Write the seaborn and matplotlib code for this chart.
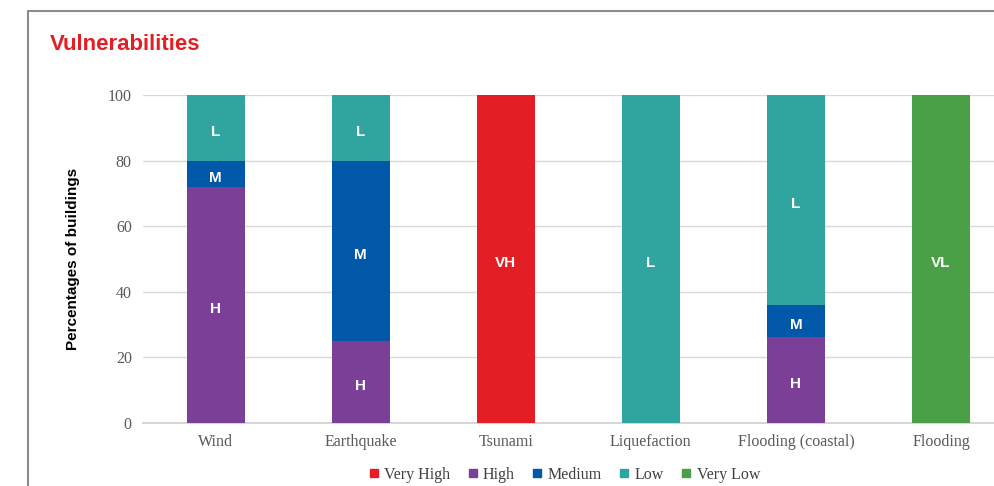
import matplotlib
matplotlib.use("Agg")
import matplotlib.pyplot as plt
from matplotlib.lines import Line2D
import numpy as np
import pandas as pd
import seaborn as sns

# Hazard categories and share of buildings (%) in each vulnerability class
categories = ["Wind", "Earthquake", "Tsunami", "Liquefaction", "Flooding (coastal)", "Flooding"]
levels = ["Very High", "High", "Medium", "Low", "Very Low"]
short = ["VH", "H", "M", "L", "VL"]
very_high = [0, 0, 100, 0, 0, 0]
high = [72, 25, 0, 0, 26, 0]
medium = [8, 55, 0, 0, 10, 0]
low = [20, 20, 0, 100, 64, 0]
very_low = [0, 0, 0, 0, 0, 100]
yticks = [0, 20, 40, 60, 80, 100]

colors = ["#E31E24", "#7C3F97", "#0157A8", "#30A59F", "#4AA047"]

series = [very_high, high, medium, low, very_low]
df = pd.DataFrame({lvl: vals for lvl, vals in zip(levels, series)}, index=categories)
cum = df.cumsum(axis=1)

sns.set_theme(style="white")
plt.rcParams["font.family"] = ["Liberation Sans", "DejaVu Sans"]

fig = plt.figure(figsize=(9.95, 4.86), dpi=100)
ax = fig.add_axes([0.1437, 0.1305, 0.875, 0.674])

# Stacked bars: draw cumulative totals from the top class down
for lvl, col in reversed(list(zip(levels, colors))):
    d = pd.DataFrame({"cat": categories, "val": cum[lvl].values})
    sns.barplot(data=d, x="cat", y="val", order=categories, color=col,
                width=0.4, saturation=1, ax=ax, linewidth=0, zorder=3)

# Segment labels near the middle of each non-empty segment
for i, cat in enumerate(categories):
    bottom = 0
    for lvl, s in zip(levels, short):
        v = df.loc[cat, lvl]
        if v > 0:
            ax.text(i, bottom + v / 2 - 1.2, s, ha="center", va="center",
                    color="white", fontsize=11, fontweight="bold", zorder=5)
        bottom += v

ax.set_xlim(-0.5, len(categories) - 0.5)
ax.set_ylim(0, 100)
ax.set_yticks(yticks)
ax.yaxis.grid(True, color="#D9D9D9", linewidth=1)
ax.set_axisbelow(True)
for side in ["left", "right", "top"]:
    ax.spines[side].set_visible(False)
ax.spines["bottom"].set_color("#D0D0D0")
ax.tick_params(axis="both", length=0, pad=8)
serif = {"family": ["Liberation Serif", "DejaVu Serif"], "size": 11.5}
ax.set_xticks(range(len(categories)))
ax.set_xticklabels(categories, fontdict=serif, color="#595959")
ax.set_yticklabels([str(t) for t in yticks], fontdict=serif, color="#595959")
ax.set_xlabel("")
ax.set_ylabel("Percentages of buildings", fontsize=11, fontweight="bold",
              color="black", labelpad=20)

# Legend
handles = [Line2D([0], [0], marker="s", color="none", markerfacecolor=c,
                  markeredgecolor=c, markersize=5.5) for c in colors]
fig.legend(handles, levels, loc="center", bbox_to_anchor=(565 / 995, 1 - 475 / 486),
           ncol=5, frameon=False, handlelength=0.5, handletextpad=0.4,
           columnspacing=1.15, prop={"family": ["Liberation Serif", "DejaVu Serif"], "size": 11.5},
           labelcolor="#404040")

# Title
fig.text(50 / 995, 1 - 45 / 486, "Vulnerabilities", color="#E31E24",
         fontsize=16, fontweight="bold", ha="left", va="center")

# Outer frame
fx, fy = 28 / 995, 1 - 11 / 486
fig.add_artist(Line2D([fx, fx], [0, fy], transform=fig.transFigure, color="#8C8C8C", linewidth=1.5))
fig.add_artist(Line2D([fx, 1], [fy, fy], transform=fig.transFigure, color="#8C8C8C", linewidth=1.5))

fig.savefig("out.png", dpi=100)
